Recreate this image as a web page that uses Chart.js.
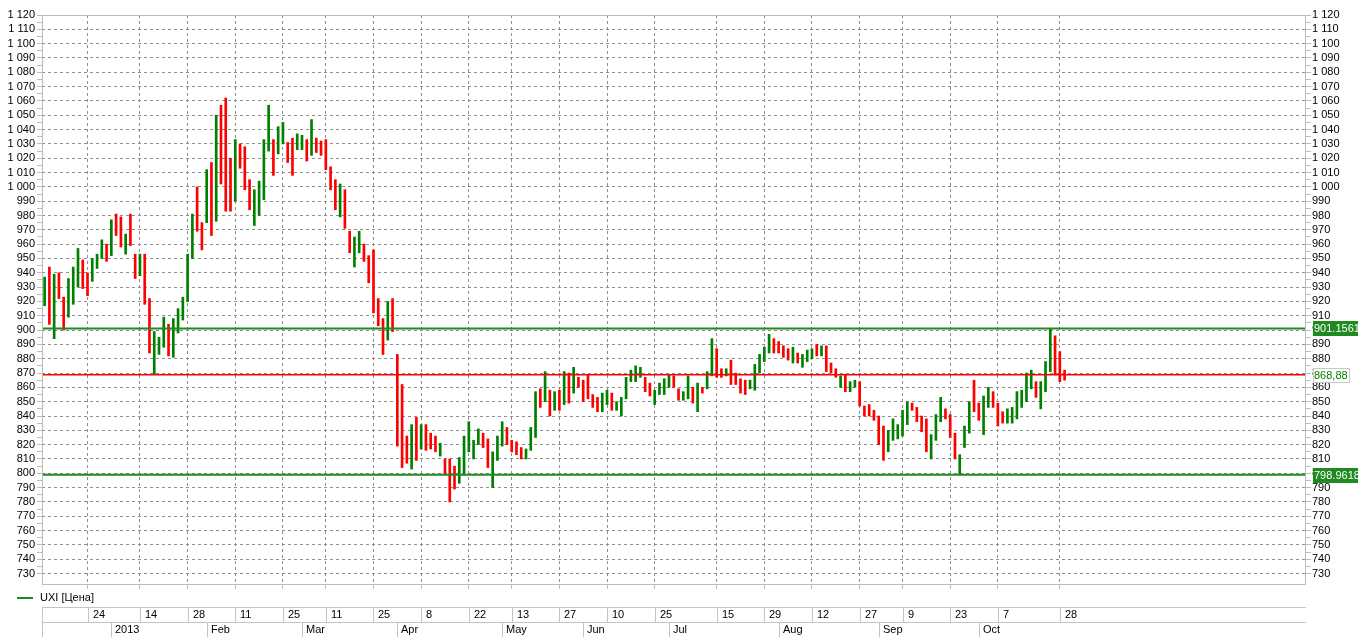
<!DOCTYPE html>
<html>
<head>
<meta charset="utf-8">
<title>UXI</title>
<script src="https://cdn.jsdelivr.net/npm/chart.js@4.4.1/dist/chart.umd.min.js"></script>
<style>
  html, body { margin: 0; padding: 0; background: #fff; }
  canvas { display: block; }
</style>
</head>
<body>
<canvas id="uxi" width="1368" height="637"></canvas>
<script>
// UXI daily bars (Dec 2012 - Oct 2013)
const highs = [
  937, 944, 939, 940, 923, 936, 944, 957, 949, 940,
  950, 953, 963, 960, 977, 981, 979, 967, 981, 953,
  953, 953, 922, 899, 895, 909, 904, 908, 915, 923,
  953, 981, 1000, 975, 1012, 1017, 1050, 1057, 1062, 1020,
  1033, 1030, 1028, 1005, 998, 1004, 1033, 1057, 1033, 1042,
  1045, 1031, 1034, 1037, 1036, 1033, 1047, 1034, 1032, 1033,
  1014, 1005, 1002, 998, 969, 965, 969, 960, 952, 956,
  922, 908, 920, 922, 883, 862, 826, 834, 839, 834,
  834, 828, 826, 821, 810, 810, 805, 811, 826, 836,
  823, 831, 828, 824, 815, 826, 836, 832, 823, 822,
  818, 817, 832, 857, 859, 871, 858, 857, 858, 871,
  870, 874, 867, 865, 869, 855, 853, 856, 858, 856,
  850, 853, 867, 872, 875, 874, 867, 863, 858, 863,
  866, 869, 868, 859, 857, 868, 860, 863, 860, 871,
  894, 887, 873, 873, 879, 870, 866, 865, 865, 876,
  883, 888, 897, 894, 892, 889, 887, 888, 884, 883,
  886, 887, 890, 889, 889, 877, 873, 868, 869, 864,
  865, 864, 847, 848, 844, 840, 833, 830, 838, 834,
  844, 850, 849, 846, 840, 838, 827, 841, 853, 845,
  841, 828, 813, 833, 850, 865, 849, 854, 860, 857,
  849, 843, 845, 846, 857, 858, 870, 872, 864, 864,
  878, 901.16, 896, 885, 872
];
const lows = [
  917, 904, 894, 922, 900, 909, 918, 930, 929, 924,
  934, 943, 950, 948, 952, 966, 958, 953, 959, 936,
  938, 918, 884, 869, 883, 888, 882, 881, 898, 907,
  920, 950, 969, 956, 975, 966, 976, 1002, 983, 983,
  990, 1013, 998, 984, 973, 980, 991, 1025, 1008, 1023,
  1030, 1017, 1008, 1026, 1026, 1018, 1022, 1024, 1022, 1012,
  998, 984, 979, 971, 954, 944, 954, 948, 933, 912,
  903, 883, 893, 899, 819, 804, 807, 803, 809, 817,
  816, 817, 815, 812, 799, 780, 789, 793, 799, 815,
  810, 820, 818, 804, 790, 809, 819, 820, 815, 813,
  810, 810, 816, 825, 846, 850, 840, 844, 844, 848,
  849, 856, 860, 850, 852, 846, 843, 843, 848, 844,
  844, 840, 852, 864, 864, 867, 857, 854, 848, 855,
  855, 860, 860, 851, 851, 852, 849, 843, 856, 859,
  868, 867, 867, 868, 862, 862, 856, 855, 859, 858,
  870, 878, 884, 884, 884, 881, 879, 877, 877, 874,
  878, 880, 882, 882, 871, 870, 867, 860, 857, 857,
  860, 847, 840, 840, 837, 820, 809, 815, 823, 824,
  826, 834, 844, 836, 829, 815, 810, 823, 836, 838,
  825, 810, 798.96, 818, 828, 843, 837, 827, 846, 846,
  833, 835, 835, 835, 838, 846, 850, 859, 853, 845,
  857, 871, 869, 864, 865
];
// 1 = closed up (green), 0 = closed down (red)
const rising = [
  1, 0, 1, 0, 0, 1, 1, 1, 0, 0,
  1, 1, 1, 0, 1, 0, 0, 1, 0, 0,
  1, 0, 0, 1, 1, 1, 0, 1, 1, 1,
  1, 1, 0, 0, 1, 0, 1, 0, 0, 0,
  1, 0, 0, 0, 1, 1, 1, 1, 0, 1,
  1, 0, 0, 1, 1, 0, 1, 0, 0, 0,
  0, 0, 1, 0, 0, 1, 1, 0, 0, 0,
  0, 0, 1, 0, 0, 0, 0, 1, 0, 1,
  0, 0, 0, 1, 0, 0, 0, 1, 1, 1,
  1, 1, 0, 0, 1, 1, 1, 0, 0, 0,
  0, 1, 1, 1, 0, 1, 0, 1, 0, 1,
  0, 1, 0, 0, 0, 0, 0, 1, 1, 0,
  1, 1, 1, 1, 1, 1, 0, 0, 1, 1,
  1, 1, 0, 0, 1, 1, 0, 1, 0, 1,
  1, 0, 0, 1, 0, 0, 0, 0, 1, 1,
  1, 1, 1, 0, 0, 0, 0, 1, 0, 1,
  1, 1, 0, 1, 0, 0, 0, 1, 0, 1,
  1, 0, 0, 0, 0, 0, 0, 1, 1, 1,
  1, 1, 0, 0, 0, 0, 1, 1, 1, 0,
  0, 0, 1, 1, 1, 0, 0, 1, 1, 0,
  0, 0, 1, 1, 1, 1, 1, 1, 0, 1,
  1, 1, 0, 0, 0
];

// horizontal levels
const levelHigh = 901.1561;
const levelLow = 798.9618;
const lastClose = 868.88;

// bottom date axis: label text and the bar number it sits on
const dayLabels = ['24', '14', '28', '11', '25', '11', '25', '8', '22', '13', '27',
  '10', '25', '15', '29', '12', '27', '9', '23', '7', '28'];
const dayBars = [10, 21, 31, 41, 51, 60, 70, 80, 90, 99, 109,
  119, 129, 142, 152, 162, 172, 181, 191, 201, 214];
const monthLabels = ['2013', 'Feb', 'Mar', 'Apr', 'May', 'Jun', 'Jul', 'Aug', 'Sep', 'Oct'];
const monthBars = [15, 35, 55, 75, 97, 114, 132, 155, 176, 197];

const GREEN = '#008000';
const RED = '#ff0000';
const LINE_GREEN = '#1f8a1f';
const GRID = '#8e8e8e';
const FONT = '11px "Liberation Sans", Arial, sans-serif';
const X_MIN = 0.45, X_MAX = 265.65;

Chart.defaults.font.family = '"Liberation Sans", Arial, sans-serif';
Chart.defaults.font.size = 11;
Chart.defaults.color = '#000';

const fmt = v => v >= 1000 ? Math.floor(v / 1000) + ' ' + String(v % 1000).padStart(3, '0') : String(v);

const levelLine = (v, color, w) => ({
  type: 'line',
  data: [{ x: X_MIN, y: v }, { x: X_MAX, y: v }],
  borderColor: color,
  borderWidth: w,
  pointRadius: 0,
  order: 1
});

// frame, level tags, legend and the two-row date strip
const extras = {
  id: 'extras',
  afterDraw(chart) {
    const { ctx, chartArea: a, scales } = chart;
    const xs = scales.x, ys = scales.y;
    ctx.save();
    ctx.strokeStyle = '#bdbdbd';
    ctx.lineWidth = 1;
    ctx.strokeRect(a.left + 0.5, a.top + 0.5, a.right - a.left - 1, a.bottom - a.top - 1);

    ctx.font = FONT;
    ctx.textBaseline = 'middle';
    ctx.textAlign = 'left';
    const tag = (v, text, fill, stroke, color, w) => {
      const py = Math.round(ys.getPixelForValue(v));
      const bx = a.right + 7, top = py - 7, h = 15;
      ctx.save();
      ctx.beginPath();
      ctx.rect(bx, top, w, h);
      ctx.clip();
      ctx.fillStyle = fill;
      ctx.fillRect(bx, top, w, h);
      if (stroke) {
        ctx.strokeStyle = stroke;
        ctx.strokeRect(bx + 0.5, top + 0.5, w - 1, h - 1);
      }
      ctx.fillStyle = color;
      ctx.fillText(text, bx + 1, py + 1);
      ctx.restore();
    };
    tag(levelHigh, '901.1561', LINE_GREEN, null, '#fff', 45);
    tag(levelLow, '798.9618', LINE_GREEN, null, '#fff', 45);
    tag(lastClose, '868,88', '#fff', '#c8c8c8', GREEN, 37);

    // legend
    ctx.strokeStyle = LINE_GREEN;
    ctx.lineWidth = 2;
    ctx.beginPath();
    ctx.moveTo(17, 598);
    ctx.lineTo(33, 598);
    ctx.stroke();
    ctx.fillStyle = '#000';
    ctx.fillText('UXI [Цена]', 40, 598);

    // date strip
    const r1 = 607.5, r2 = 622.5, bottom = 637;
    ctx.strokeStyle = '#c4c4c4';
    ctx.lineWidth = 1;
    ctx.beginPath();
    ctx.moveTo(a.left, r1); ctx.lineTo(a.right, r1);
    ctx.moveTo(a.left, r2); ctx.lineTo(a.right, r2);
    ctx.moveTo(a.left + 0.5, r1); ctx.lineTo(a.left + 0.5, bottom);
    dayBars.forEach(b => {
      const px = Math.round(xs.getPixelForValue(b)) + 0.5;
      ctx.moveTo(px, r1); ctx.lineTo(px, r2);
    });
    monthBars.forEach(b => {
      const px = Math.round(xs.getPixelForValue(b)) + 0.5;
      ctx.moveTo(px, r2); ctx.lineTo(px, bottom);
    });
    ctx.stroke();
    ctx.fillStyle = '#000';
    dayLabels.forEach((t, i) => {
      ctx.fillText(t, Math.round(xs.getPixelForValue(dayBars[i])) + 5, 615);
    });
    monthLabels.forEach((t, i) => {
      ctx.fillText(t, Math.round(xs.getPixelForValue(monthBars[i])) + 4, 630);
    });
    ctx.restore();
  }
};

const yAxis = (pos) => ({
  type: 'linear',
  position: pos,
  min: 722,
  max: 1120,
  afterBuildTicks: s => { s.ticks = s.ticks.filter(t => t.value % 5 === 0); },
  afterFit: s => { s.width = pos === 'left' ? 42 : 62; },
  ticks: {
    stepSize: 5,
    autoSkip: false,
    padding: pos === 'left' ? 2 : 1,
    callback: v => v % 10 === 0 ? fmt(v) : ''
  },
  grid: {
    drawOnChartArea: pos === 'left',
    color: c => (c.tick && c.tick.value % 10 === 0) ? GRID : 'rgba(0,0,0,0)',
    tickColor: '#bdbdbd',
    tickLength: 5
  },
  border: { display: false, dash: [3, 3] }
});

new Chart(document.getElementById('uxi'), {
  type: 'bar',
  data: {
    datasets: [
      {
        type: 'bar',
        data: highs.map((h, i) => ({ x: i + 1, y: [lows[i], h] })),
        backgroundColor: rising.map(u => u ? GREEN : RED),
        barThickness: 2,
        grouped: false,
        order: 2
      },
      levelLine(levelHigh, LINE_GREEN, 2),
      levelLine(lastClose, RED, 1.5),
      levelLine(levelLow, LINE_GREEN, 2)
    ]
  },
  options: {
    responsive: false,
    animation: false,
    devicePixelRatio: 1,
    layout: { padding: { top: 15, left: 0, right: 0, bottom: 0 } },
    plugins: { legend: { display: false }, tooltip: { enabled: false } },
    scales: {
      x: {
        type: 'linear',
        offset: false,
        min: X_MIN,
        max: X_MAX,
        afterBuildTicks: s => { s.ticks = dayBars.map(v => ({ value: v })); },
        afterFit: s => { s.height = 52; },
        ticks: { display: false, autoSkip: false },
        grid: { offset: false, color: GRID, tickColor: '#bdbdbd', tickLength: 4 },
        border: { display: false, dash: [3, 3] }
      },
      y: yAxis('left'),
      y2: yAxis('right')
    }
  },
  plugins: [extras]
});
</script>
</body>
</html>
